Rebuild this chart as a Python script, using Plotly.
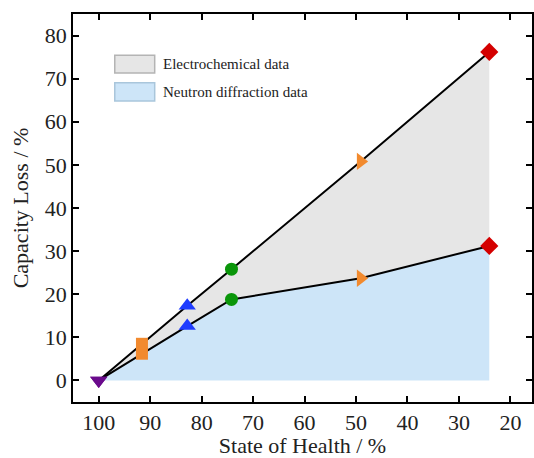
import plotly.graph_objects as go

# Data
soh = [100, 91.6, 82.8, 74.2, 49.1, 24.1]
echem_loss = [0, 8.5, 17.3, 25.8, 50.8, 76.2]
neutron_loss = [0, 6.2, 12.6, 18.8, 23.7, 31.2]
symbols = ["triangle-down", "square", "triangle-up", "circle", "triangle-right", "diamond"]
colors = ["#6a0a8c", "#f28a2e", "#1f3cff", "#0a960a", "#f28a2e", "#d40000"]
marker_sizes = [15, 12, 15, 13, 15, 14]
legend_labels = ["Electrochemical data", "Neutron diffraction data"]
x_ticks = [100, 90, 80, 70, 60, 50, 40, 30, 20]
y_ticks = [0, 10, 20, 30, 40, 50, 60, 70, 80]

GREY = "#e6e6e6"
BLUE = "#cde5f8"
FONT = "Liberation Serif"

fig = go.Figure()
fig.add_trace(go.Scatter(
    x=soh, y=neutron_loss, mode="lines", fill="tozeroy", fillcolor=BLUE,
    line=dict(color="black", width=2), showlegend=False))
fig.add_trace(go.Scatter(
    x=soh, y=echem_loss, mode="lines", fill="tonexty", fillcolor=GREY,
    line=dict(color="black", width=2), showlegend=False))
for ys in (neutron_loss, echem_loss):
    fig.add_trace(go.Scatter(
        x=soh, y=ys, mode="markers",
        marker=dict(symbol=symbols, color=colors, size=marker_sizes, opacity=1,
                    line=dict(width=0)),
        showlegend=False))

# legend drawn as paper shapes + text
boxes = [(GREY, "#b4b4b4", 0.894, 0.848), (BLUE, "#a9c6db", 0.823, 0.776)]
for (fc, lc, y1, y0), lab in zip(boxes, legend_labels):
    fig.add_shape(type="rect", xref="paper", yref="paper", x0=0.091, x1=0.178,
                  y0=y0, y1=y1, fillcolor=fc, line=dict(color=lc, width=1.5))
    fig.add_annotation(xref="paper", yref="paper", x=0.192, y=(y0 + y1) / 2,
                       text=lab, showarrow=False, xanchor="left", yanchor="middle",
                       font=dict(family=FONT, size=15, color="#222"))

axis_common = dict(showline=True, linecolor="black", linewidth=1.5, mirror="ticks",
                   ticks="inside", ticklen=6, tickwidth=1.5, tickcolor="black",
                   showgrid=False, zeroline=False,
                   tickfont=dict(family=FONT, size=22, color="#222"))
fig.update_xaxes(range=[105, 15.8], tickvals=x_ticks,
                 title=dict(text="State of Health / %", font=dict(family=FONT, size=22, color="#222"),
                            standoff=6),
                 **axis_common)
fig.update_yaxes(range=[-5, 85], tickvals=y_ticks,
                 title=dict(text="Capacity Loss / %", font=dict(family=FONT, size=22, color="#222"),
                            standoff=10),
                 **axis_common)
fig.update_layout(width=534, height=458, margin=dict(l=73, r=0, t=14, b=56),
                  plot_bgcolor="white", paper_bgcolor="white")
fig.write_html("out.html")
